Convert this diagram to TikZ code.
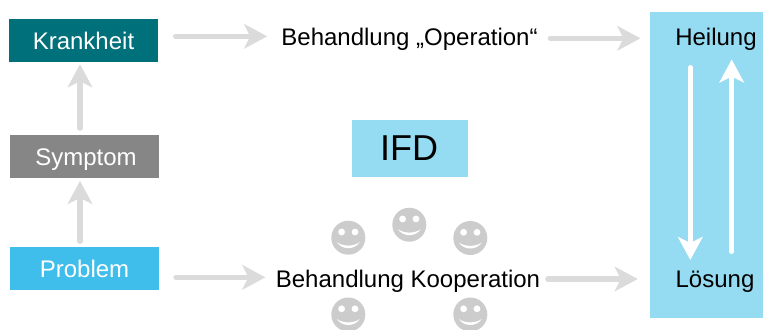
\documentclass[tikz,border=0pt]{standalone}
\usepackage{fontspec}
\setmainfont{Liberation Sans}
\usetikzlibrary{arrows.meta}

\definecolor{teal1}{HTML}{00707A}
\definecolor{grey1}{HTML}{868686}
\definecolor{blue1}{HTML}{40BEEB}
\definecolor{blue2}{HTML}{95DBF2}
\definecolor{arrowgrey}{HTML}{DBDBDB}
\definecolor{smileygrey}{HTML}{CCCCCC}

\tikzset{
  box/.style={minimum width=111.75pt, minimum height=32.25pt, inner sep=0pt, text height=17pt, text depth=4pt, text=white, font=\fontsize{18}{20}\selectfont},
  label/.style={inner sep=0pt, text height=16.4pt, text depth=4pt, text=black, font=\fontsize{18}{20}\selectfont},
  greyarrow/.style={-{Stealth[length=17.25pt, width=18.4pt, inset=4.5pt]}, line width=4pt, line cap=round, arrowgrey},
  whitearrow/.style={-{Stealth[length=17.25pt, width=18.4pt, inset=4.5pt]}, line width=3.75pt, line cap=round, white},
  smiley/.pic={
    \fill[smileygrey] (0,0) circle (17);
    \fill[white] (-6.7,-5.7) circle (3.4);
    \fill[white] (6.7,-5.7) circle (3.4);
    \fill[white] (-11.5,4.5) .. controls (-5,9) and (5,9) .. (11.5,4.5) .. controls (6,12.5) and (-6,12.5) .. cycle;
  }
}

\begin{document}
\begin{tikzpicture}[x=0.75pt, y=-0.75pt]
  \useasboundingbox (0,0) rectangle (763,329);
  \node[fill=blue2, minimum width=84.75pt, minimum height=229.5pt, inner sep=0pt] (panel) at (706.5,165) {};
  \node[box, fill=teal1] (Krankheit) at (83.5,40.5) {Krankheit};
  \node[box, fill=grey1] (Symptom) at (84.5,156.5) {\hspace*{2.25pt}Symptom};
  \node[box, fill=blue1] (Problem) at (84.5,268.5) {Problem};
  \node[fill=blue2, minimum width=87pt, minimum height=42.75pt, inner sep=0pt, font=\fontsize{27}{30}\selectfont] (IFD) at (410,148.5) {\hspace*{-1.5pt}IFD};
  \node[label] (Operation) at (409.5,37) {Behandlung „Operation“};
  \node[label] (Kooperation) at (408,279) {Behandlung Kooperation};
  \node[label] (Heilung) at (716,37) {Heilung};
  \node[label] (Loesung) at (715,279) {Lösung};
  \coordinate (axis) at (80,0);
  \coordinate (downtop) at (690.3,67.5);
  \coordinate (downend) at (690.3,260);
  \coordinate (upbottom) at (731.7,251.5);
  \coordinate (upend) at (731.7,59.5);
  \pic at (348.3,237.7) {smiley};
  \pic at (409.3,224.7) {smiley};
  \pic at (470.3,238) {smiley};
  \pic at (348.3,314.5) {smiley};
  \pic at (470.3,314.5) {smiley};
  \draw[greyarrow, shorten <=13pt, shorten >=10.5pt] ([yshift=0.5pt]Krankheit.east |- Operation) -- ([yshift=0.5pt]Operation.west);
  \draw[greyarrow, shorten <=9.4pt, shorten >=7pt] ([yshift=-1pt]Operation.east) -- ([yshift=-1pt]panel.west |- Operation);
  \draw[greyarrow, shorten <=4.9pt, shorten >=1.5pt] (axis |- Symptom.north) -- (axis |- Krankheit.south);
  \draw[greyarrow, shorten <=4.1pt, shorten >=2pt] (axis |- Problem.north) -- (axis |- Symptom.south);
  \draw[greyarrow, shorten <=12.5pt, shorten >=7.7pt] ([yshift=1.25pt]Problem.east |- Kooperation) -- ([yshift=1.25pt]Kooperation.west);
  \draw[greyarrow, shorten <=5.6pt, shorten >=9pt] (Kooperation.east) -- (panel.west |- Kooperation);
  \draw[whitearrow] (downtop) -- (downend);
  \draw[whitearrow] (upbottom) -- (upend);
\end{tikzpicture}
\end{document}
